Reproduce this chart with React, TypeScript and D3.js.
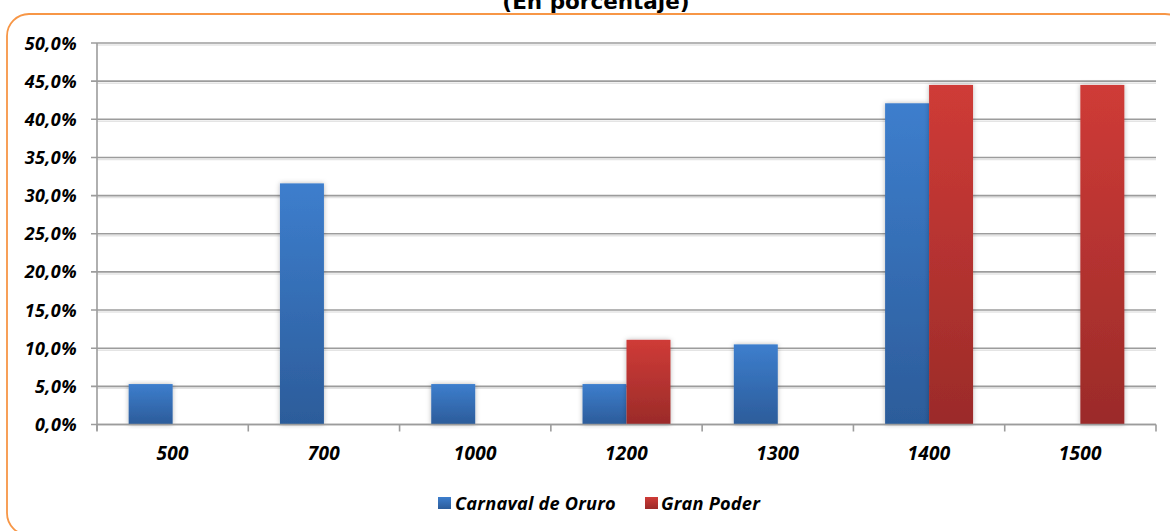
import React from "react";
import * as d3 from "d3";

const categories = ["500", "700", "1000", "1200", "1300", "1400", "1500"];
const seriesNames = ["Carnaval de Oruro", "Gran Poder"];
const carnavalValues = [5.3, 31.6, 5.3, 5.3, 10.5, 42.1, 0];
const granPoderValues = [0, 0, 0, 11.1, 0, 44.5, 44.5];
const yTicks = [0, 5, 10, 15, 20, 25, 30, 35, 40, 45, 50];
const titleText = "(En porcentaje)";

const W = 1170;
const H = 531;
const left = 97;
const right = 1156;
const top = 43;
const bottom = 424.5;

const labelFont = "'Open Sans', Lato, sans-serif";

export default function App() {
  const x0 = d3.scaleBand<string>().domain(categories).range([left, right]).padding(0);
  const x1 = d3
    .scaleBand<string>()
    .domain(seriesNames)
    .range([0, x0.bandwidth()])
    .paddingInner(0)
    .paddingOuter(0.72);
  const y = d3.scaleLinear().domain([0, 50]).range([bottom, top]);
  const fmt = (v: number) => d3.format(".1f")(v).replace(".", ",") + "%";
  const series = [
    { name: seriesNames[0], values: carnavalValues, grad: "gBlue" },
    { name: seriesNames[1], values: granPoderValues, grad: "gRed" },
  ];
  const boundaries = categories.map((c) => x0(c) as number).concat([right]);

  return (
    <svg
      width={W}
      height={H}
      style={{ position: "absolute", left: 0, top: 0, background: "#fff" }}
    >
      <defs>
        <linearGradient id="gBlue" x1="0" y1="0" x2="0" y2="1">
          <stop offset="0%" stopColor="#3d7ecd" />
          <stop offset="100%" stopColor="#2c5c9a" />
        </linearGradient>
        <linearGradient id="gRed" x1="0" y1="0" x2="0" y2="1">
          <stop offset="0%" stopColor="#cf3b37" />
          <stop offset="100%" stopColor="#9b2b29" />
        </linearGradient>
        <filter id="shadow" x="-30%" y="-10%" width="160%" height="120%">
          <feDropShadow dx="0" dy="0" stdDeviation="2.5" floodColor="#000" floodOpacity="0.28" />
        </filter>
      </defs>
      <rect width={W} height={H} fill="#fff" />
      <rect
        x={7}
        y={14}
        width={1180}
        height={521}
        rx={22}
        ry={22}
        fill="none"
        stroke="#f79646"
        strokeWidth={1.8}
      />
      <text
        x={596}
        y={9}
        textAnchor="middle"
        fontFamily="'DejaVu Sans', sans-serif"
        fontWeight="bold"
        fontSize={21.5}
        fill="#000"
      >
        {titleText}
      </text>

      {/* gridlines */}
      {yTicks.map((t) => (
        <g key={t}>
          {t > 0 && (
            <line x1={left} x2={right} y1={y(t) + 2} y2={y(t) + 2} stroke="#e4e4e4" strokeWidth={1.5} />
          )}
          <line x1={left - 6} x2={right} y1={y(t)} y2={y(t)} stroke="#9c9c9c" strokeWidth={1.6} />
          <text
            x={77}
            y={y(t) + 6.5}
            textAnchor="end"
            fontFamily={labelFont}
            fontWeight="bold"
            fontStyle="italic"
            fontSize={18}
            letterSpacing={0.4}
            fill="#000"
          >
            {fmt(t)}
          </text>
        </g>
      ))}
      <line x1={left} x2={left} y1={top} y2={bottom + 6} stroke="#9c9c9c" strokeWidth={1.6} />
      {boundaries.map((b, i) => (
        <line key={i} x1={b} x2={b} y1={bottom} y2={bottom + 7} stroke="#9c9c9c" strokeWidth={1.6} />
      ))}

      {/* bars */}
      {series.map((s) => (
        <g key={s.name}>
          {categories.map((c, i) => {
            const v = s.values[i];
            if (!v) return null;
            const bx = (x0(c) as number) + (x1(s.name) as number);
            return (
              <rect
                key={c}
                x={bx}
                y={y(v)}
                width={x1.bandwidth()}
                height={y(0) - y(v)}
                fill={`url(#${s.grad})`}
                filter="url(#shadow)"
              />
            );
          })}
        </g>
      ))}
      <line x1={left} x2={right} y1={bottom} y2={bottom} stroke="#9c9c9c" strokeWidth={1.6} />

      {/* x labels */}
      {categories.map((c) => (
        <text
          key={c}
          x={(x0(c) as number) + x0.bandwidth() / 2}
          y={459.5}
          textAnchor="middle"
          fontFamily={labelFont}
          fontWeight="bold"
          fontStyle="italic"
          fontSize={19}
          letterSpacing={0.3}
          fill="#000"
        >
          {c}
        </text>
      ))}

      {/* legend */}
      <g>
        <rect x={438} y={497} width={13} height={12} fill="url(#gBlue)" />
        <text x={455} y={509.5} fontFamily={labelFont} fontWeight="bold" fontStyle="italic" fontSize={18.2} letterSpacing={0.2} fill="#000">
          {seriesNames[0]}
        </text>
        <rect x={645} y={497} width={13} height={12} fill="url(#gRed)" />
        <text x={661} y={509.5} fontFamily={labelFont} fontWeight="bold" fontStyle="italic" fontSize={18.2} letterSpacing={0.2} fill="#000">
          {seriesNames[1]}
        </text>
      </g>
    </svg>
  );
}
